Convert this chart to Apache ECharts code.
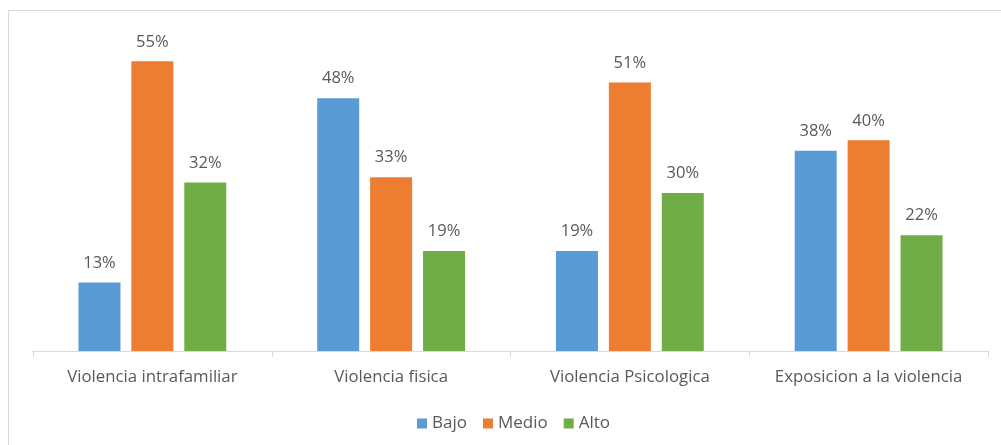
<!DOCTYPE html>
<html>
<head>
<meta charset="utf-8">
<script src="https://cdn.jsdelivr.net/npm/echarts@6/dist/echarts.min.js"></script>
<style>html,body{margin:0;padding:0;background:#fff}#c{width:1001px;height:445px}</style>
</head>
<body>
<div id="c"></div>
<script>
const categories = ["Violencia intrafamiliar", "Violencia fisica", "Violencia Psicologica", "Exposicion a la violencia"];
const seriesNames = ["Bajo", "Medio", "Alto"];
const bajo = [13, 48, 19, 38];
const medio = [55, 33, 51, 40];
const alto = [32, 19, 30, 22];
const colors = ["#5B9BD5", "#ED7D31", "#70AD47"];
const values = [bajo, medio, alto];

const chart = echarts.init(document.getElementById('c'), null, {renderer: 'canvas'});
const font = "Open Sans";
chart.setOption({
  animation: false,
  textStyle: {fontFamily: font},
  graphic: [{
    type: 'rect', shape: {x: 8.5, y: 10.5, width: 1100, height: 600},
    style: {fill: 'none', stroke: '#d9d9d9', lineWidth: 1}, silent: true, z: -10
  }],
  grid: {left: 33, right: 13, top: 35, bottom: 94, containLabel: false},
  legend: {
    data: seriesNames, bottom: 8, left: 412, itemWidth: 10, itemHeight: 10, itemGap: 16,
    icon: 'rect',
    textStyle: {color: '#595959', fontSize: 17, fontFamily: font}
  },
  xAxis: {
    type: 'category', data: categories,
    axisLine: {lineStyle: {color: '#d9d9d9'}},
    axisTick: {show: true, length: 6, lineStyle: {color: '#d9d9d9'}},
    axisLabel: {color: '#595959', fontSize: 16.8, margin: 18, interval: 0, fontFamily: font}
  },
  yAxis: {type: 'value', min: 0, max: 60, show: false, splitLine: {show: false}},
  series: seriesNames.map((n, i) => ({
    name: n, type: 'bar', data: values[i], barWidth: 42, barGap: '26%',
    itemStyle: {color: colors[i]},
    label: {show: true, position: 'top', distance: 11, formatter: '{c}%', color: '#595959', fontSize: 16.5, fontFamily: font}
  }))
});
</script>
</body>
</html>
